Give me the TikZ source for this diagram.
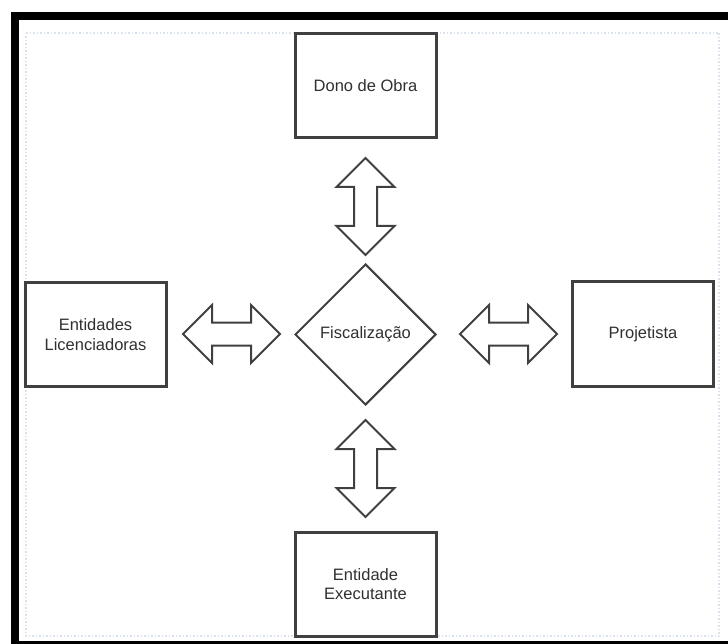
\documentclass[tikz,border=0pt]{standalone}
\usepackage{fontspec}
\setmainfont{Liberation Sans}
\usetikzlibrary{shapes.geometric,shapes.arrows}

\definecolor{edge}{RGB}{64,64,64}
\definecolor{txt}{RGB}{48,48,48}
\definecolor{dots}{RGB}{218,226,238}

\begin{document}
\begin{tikzpicture}[
  x=1pt, y=-1pt,
  every node/.style={font=\fontsize{16.5}{19.5}\selectfont, text=txt, align=center},
  party/.style={rectangle, draw=edge, line width=3pt, minimum width=141pt, minimum height=104pt, inner sep=0pt},
  hub/.style={diamond, draw=edge, line width=2pt, minimum width=141pt, minimum height=141pt, inner sep=0pt},
  link/.style={double arrow, draw=edge, line width=2pt, fill=white, minimum height=97pt,
    inner sep=10.5pt, double arrow head extend=17.5pt, double arrow tip angle=90}
]
\useasboundingbox (0,0) rectangle (728,644);

% frame
\draw[line width=8pt] (15,644) -- (15,16) -- (728,16);
\draw[line width=3pt] (15,642.5) -- (728,642.5);
\draw[dots, dotted, line width=1.5pt] (26,33) rectangle (719,636);

% nodes
\node[hub] (fisc) at (365.5,334.5) {Fiscalização};
\node[party] (dono) at (365.5,85.5) {Dono de Obra};
\node[party] (lic) at (95.5,334.5) {Entidades\\Licenciadoras};
\node[party] (proj) at (643,334) {Projetista};
\node[party] (exec) at (365.5,584) {Entidade\\Executante};

% links
\node[link] (linkdono) at (365.5,206.5) [rotate=90] {};
\node[link] (linklic) at (231.5,334) {};
\node[link] (linkproj) at (508.5,334) {};
\node[link] (linkexec) at (365.5,468.5) [rotate=90] {};
\end{tikzpicture}
\end{document}
